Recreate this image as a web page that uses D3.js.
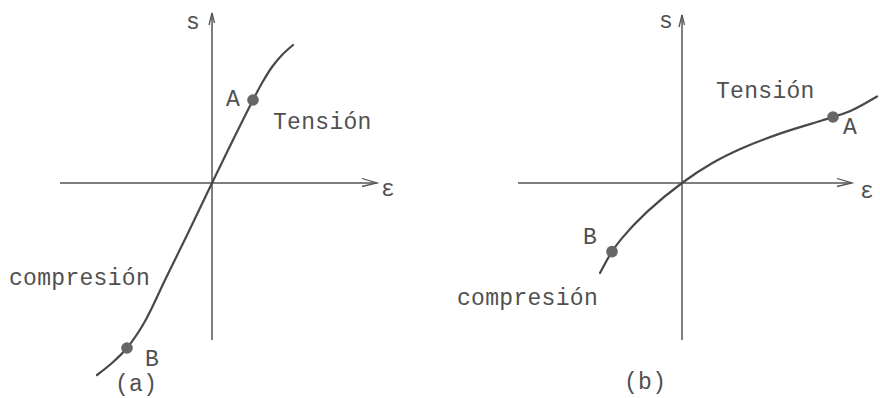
<!DOCTYPE html>
<html>
<head>
<meta charset="utf-8">
<script src="https://cdn.jsdelivr.net/npm/d3@7"></script>
<style>
  html, body { margin: 0; padding: 0; background: #fff; }
  svg text { font-family: "Liberation Mono", "DejaVu Sans Mono", monospace; fill: #505050; }
</style>
</head>
<body>
<svg id="chart" width="880" height="398"></svg>
<script>
// Stress–strain curves: (a) steep, S-shaped; (b) concave, flattening in tension.
// Coordinates are in arbitrary strain (e) and stress (s) units.
const curveA_e = [-11.5, -10.0, -8.5, -6.8, -4.6, -2.3, 0, 2.0, 4.1, 5.0, 6.0, 7.0, 8.1];
const curveA_s = [-19.2, -18.0, -16.5, -14.0, -9.5, -4.8, 0, 4.1, 8.3, 10.0, 11.6, 12.8, 13.8];
const pointsA = [{ name: "A", e: 4.1, s: 8.3 }, { name: "B", e: -8.5, s: -16.5 }];

const curveB_e = [-8.2, -7.0, -6.0, -3.5, 0, 3.0, 6.0, 10.0, 14.0, 15.1, 17.0, 19.5];
const curveB_s = [-9.0, -6.86, -5.51, -2.89, 0, 1.97, 3.47, 5.01, 6.25, 6.6, 7.28, 8.65];
const pointsB = [{ name: "A", e: 15.1, s: 6.6 }, { name: "B", e: -7.0, s: -6.86 }];

const svg = d3.select("#chart");
const ink = "#484848";

function drawPanel(cfg) {
  const x = d3.scaleLinear().domain(cfg.eDomain).range(cfg.xRange);
  const y = d3.scaleLinear().domain(cfg.sDomain).range(cfg.yRange);
  const g = svg.append("g");
  const x0 = x(0), y0 = y(0);
  const xEnd = x(cfg.eDomain[1]), yTop = y(cfg.sDomain[1]);

  // axes
  g.append("line").attr("x1", x(cfg.eDomain[0])).attr("x2", xEnd)
    .attr("y1", y0).attr("y2", y0).attr("stroke", "#555").attr("stroke-width", 1.5);
  g.append("line").attr("x1", x0).attr("x2", x0)
    .attr("y1", y(cfg.sDomain[0])).attr("y2", yTop).attr("stroke", "#555").attr("stroke-width", 1.5);

  // open arrowheads
  g.append("path")
    .attr("d", `M${xEnd - 15},${y0 - 4.5} L${xEnd},${y0} L${xEnd - 15},${y0 + 3.5}`)
    .attr("fill", "none").attr("stroke", "#555").attr("stroke-width", 1.3);
  g.append("path")
    .attr("d", `M${x0 - 3},${yTop + 12} L${x0},${yTop} L${x0 + 2.5},${yTop + 10}`)
    .attr("fill", "none").attr("stroke", "#555").attr("stroke-width", 1.3);

  // curve
  const pts = cfg.e.map((v, i) => [v, cfg.s[i]]);
  g.append("path").datum(pts)
    .attr("d", d3.line().x(d => x(d[0])).y(d => y(d[1])).curve(d3.curveCatmullRom.alpha(0.5)))
    .attr("fill", "none").attr("stroke", ink).attr("stroke-width", 2.2)
    .attr("stroke-linecap", "round");

  // marked points
  g.selectAll("circle.pt").data(cfg.points).join("circle")
    .attr("class", "pt")
    .attr("cx", d => x(d.e)).attr("cy", d => y(d.s)).attr("r", 5.8)
    .attr("fill", "#666");

  // text labels
  cfg.labels.forEach(l => {
    g.append("text").attr("x", l.x).attr("y", l.y)
      .attr("font-size", 23).attr("letter-spacing", 0.3)
      .text(l.t);
  });
}

drawPanel({
  eDomain: [-15.2, 16.5], xRange: [60, 377],
  sDomain: [-15.7, 17.0], yRange: [340, 13],
  e: curveA_e, s: curveA_s, points: pointsA,
  labels: [
    { t: "s", x: 186, y: 29 },
    { t: "A", x: 226, y: 106 },
    { t: "Tensión", x: 273, y: 129 },
    { t: "compresión", x: 9, y: 285 },
    { t: "B", x: 145, y: 366 },
    { t: "(a)", x: 115, y: 391 },
    { t: "ε", x: 381, y: 196 }
  ]
});

drawPanel({
  eDomain: [-16.4, 17.0], xRange: [518, 852],
  sDomain: [-15.7, 16.8], yRange: [340, 15],
  e: curveB_e, s: curveB_s, points: pointsB,
  labels: [
    { t: "s", x: 659, y: 28 },
    { t: "Tensión", x: 716, y: 98 },
    { t: "A", x: 843, y: 134 },
    { t: "B", x: 583, y: 244 },
    { t: "compresión", x: 457, y: 305 },
    { t: "(b)", x: 624, y: 389 },
    { t: "ε", x: 860, y: 198 }
  ]
});
</script>
</body>
</html>
